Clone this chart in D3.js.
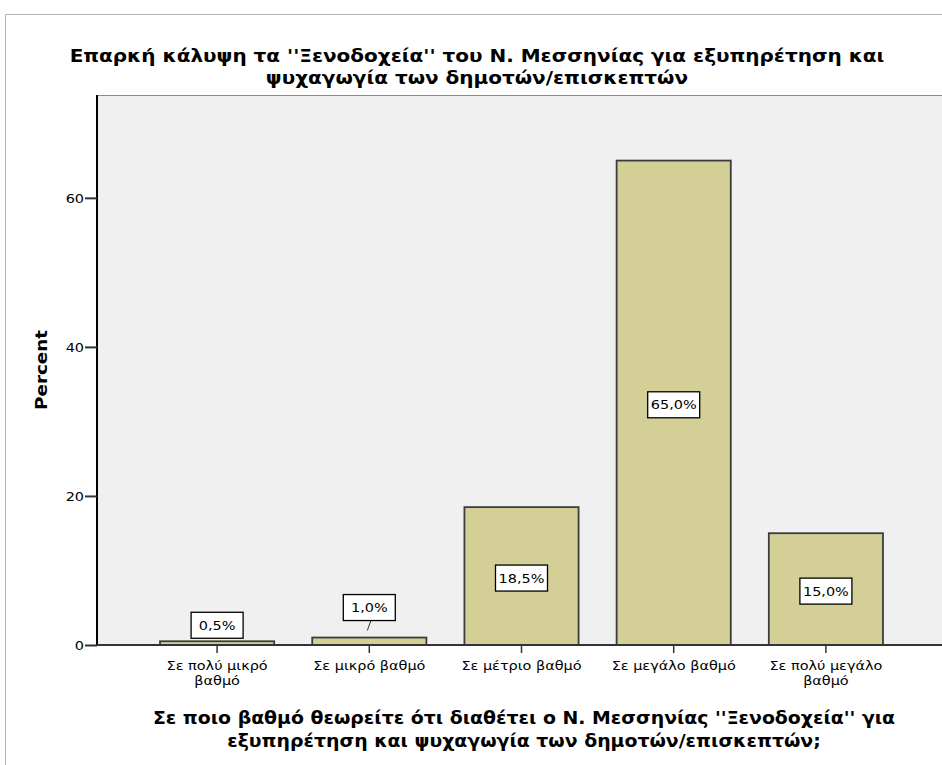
<!DOCTYPE html>
<html>
<head>
<meta charset="utf-8">
<script src="https://cdn.jsdelivr.net/npm/d3@7"></script>
<style>
  body { margin: 0; background: #fff; }
  text { font-family: "DejaVu Sans", Verdana, sans-serif; fill: #000; }
</style>
</head>
<body>
<script>
// data
var categories = ["Σε πολύ μικρό βαθμό", "Σε μικρό βαθμό", "Σε μέτριο βαθμό", "Σε μεγάλο βαθμό", "Σε πολύ μεγάλο βαθμό"];
var tickLines = [["Σε πολύ μικρό", "βαθμό"], ["Σε μικρό βαθμό"], ["Σε μέτριο βαθμό"], ["Σε μεγάλο βαθμό"], ["Σε πολύ μεγάλο", "βαθμό"]];
var percents = [0.5, 1.0, 18.5, 65.0, 15.0];
var yTicks = [0, 20, 40, 60];
var titleLines = ["Επαρκή κάλυψη τα ''Ξενοδοχεία'' του Ν. Μεσσηνίας για εξυπηρέτηση και", "ψυχαγωγία των δημοτών/επισκεπτών"];
var xTitleLines = ["Σε ποιο βαθμό θεωρείτε ότι διαθέτει ο Ν. Μεσσηνίας ''Ξενοδοχεία'' για", "εξυπηρέτηση και ψυχαγωγία των δημοτών/επισκεπτών;"];

var width = 942, height = 765;
var plotLeft = 97, plotRight = 942, plotTop = 95, plotBottom = 645;
// the original export is a bit wider than it is tall, text included
var stretch = 1.11;

var svg = d3.select("body").append("svg")
    .attr("width", width)
    .attr("height", height);

// outer frame
svg.append("path")
    .attr("d", "M5.5,765 V14.5 H942")
    .attr("fill", "none")
    .attr("stroke", "#b4b4b4")
    .attr("stroke-width", 1);

// plot background
svg.append("rect")
    .attr("x", plotLeft).attr("y", plotTop)
    .attr("width", plotRight - plotLeft).attr("height", plotBottom - plotTop)
    .attr("fill", "#f0f0f0");
svg.append("line")
    .attr("x1", plotLeft).attr("x2", plotRight)
    .attr("y1", plotTop + 0.5).attr("y2", plotTop + 0.5)
    .attr("stroke", "#8c8c8c");

var x = d3.scaleBand()
    .domain(categories)
    .range([141, 902]);

var y = d3.scaleLinear()
    .domain([0, 73.8])
    .range([plotBottom, plotTop]);

var barW = x.bandwidth() * 0.75;

// bars
svg.append("g").selectAll("rect")
    .data(percents)
    .enter().append("rect")
    .attr("x", function(d, i) { return x(categories[i]) + (x.bandwidth() - barW) / 2; })
    .attr("y", function(d) { return y(d); })
    .attr("width", barW)
    .attr("height", function(d) { return y(0) - y(d); })
    .attr("fill", "#d3cf97")
    .attr("stroke", "#3c3c3c")
    .attr("stroke-width", 1.8);

// y axis
var yAxis = svg.append("g")
    .attr("transform", "translate(" + plotLeft + ",0)")
    .call(d3.axisLeft(y).tickValues(yTicks).tickSize(12).tickPadding(1));
yAxis.select(".domain").attr("stroke", "#000").attr("stroke-width", 2)
    .attr("d", "M0," + plotTop + "V" + plotBottom);
yAxis.selectAll(".tick line").attr("stroke", "#333").attr("stroke-width", 2);
yAxis.selectAll(".tick text").style("font-size", "13px").style("font-family", "DejaVu Sans, sans-serif").attr("fill", "#222");

// x axis
var xAxis = svg.append("g")
    .attr("transform", "translate(0," + plotBottom + ")")
    .call(d3.axisBottom(x).tickSize(8).tickFormat(""));
xAxis.select(".domain").attr("stroke", "#333").attr("stroke-width", 2)
    .attr("d", "M" + plotLeft + ",0H" + plotRight);
xAxis.selectAll(".tick line").attr("stroke", "#333").attr("stroke-width", 1.5);

xAxis.selectAll(".tick").each(function(d, i) {
    var t = d3.select(this).append("text")
        .attr("text-anchor", "middle")
        .style("font-size", "13px")
        .attr("fill", "#000");
    tickLines[i].forEach(function(line, j) {
        t.append("tspan").attr("x", 0).attr("y", 25 + j * 15).text(line);
    });
});

// value labels
var labels = svg.append("g").selectAll("g")
    .data(percents)
    .enter().append("g")
    .attr("transform", function(d, i) {
        var cx = x(categories[i]) + x.bandwidth() / 2;
        var cy;
        if (d > 5) cy = (y(d) + y(0)) / 2 + 2;
        else if (i === 0) cy = y(d) - 16;
        else cy = y(d) - 30;
        return "translate(" + cx + "," + cy + ")";
    });

labels.filter(function(d, i) { return i === 1; })
    .append("line")
    .attr("x1", 2).attr("y1", 12)
    .attr("x2", -2).attr("y2", 23)
    .attr("stroke", "#333");

labels.append("rect")
    .attr("x", -26).attr("y", -13)
    .attr("width", 52).attr("height", 26)
    .attr("fill", "#fff")
    .attr("stroke", "#000")
    .attr("stroke-width", 1.3);

labels.append("text")
    .attr("text-anchor", "middle")
    .attr("dy", "0.36em")
    .style("font-size", "13px")
    .text(function(d) { return d3.format(".1f")(d).replace(".", ",") + "%"; });

// titles
var title = svg.append("text")
    .attr("text-anchor", "middle")
    .style("font-size", "18px")
    .style("font-weight", "bold");
titleLines.forEach(function(line, j) {
    title.append("tspan").attr("x", 477).attr("y", 62 + j * 22).text(line);
});

var xTitle = svg.append("text")
    .attr("text-anchor", "middle")
    .style("font-size", "17px")
    .style("font-weight", "bold");
xTitleLines.forEach(function(line, j) {
    xTitle.append("tspan").attr("x", 524).attr("y", 724 + j * 23).text(line);
});

svg.append("text")
    .attr("transform", "translate(47,370) rotate(-90)")
    .attr("text-anchor", "middle")
    .style("font-size", "16.5px")
    .style("font-weight", "bold")
    .text("Percent");

// widen every run of text by the same factor
svg.selectAll("text").each(function() {
    var runs = d3.select(this).selectAll("tspan");
    if (runs.empty()) runs = d3.select(this);
    runs.each(function() {
        var w = this.getComputedTextLength();
        d3.select(this)
            .attr("textLength", w * stretch)
            .attr("lengthAdjust", "spacingAndGlyphs");
    });
});
</script>
</body>
</html>
